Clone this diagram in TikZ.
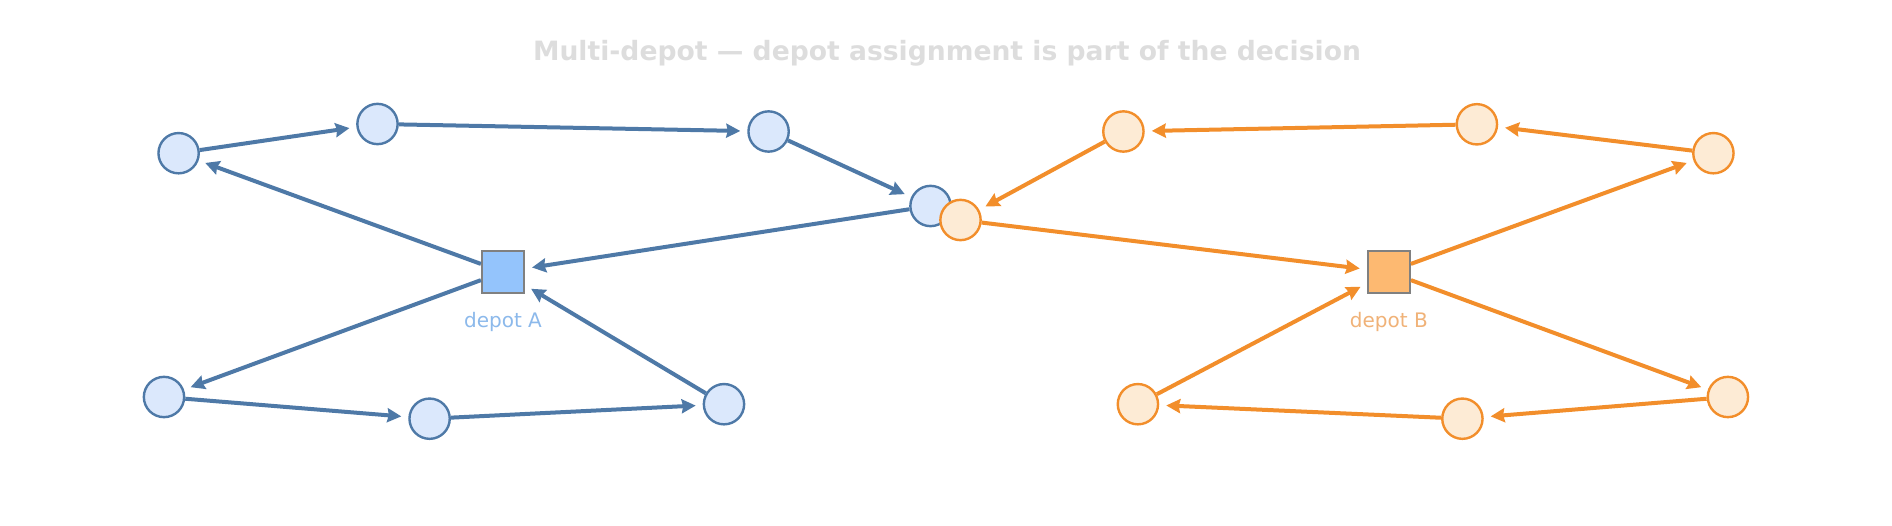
\documentclass[tikz,border=0pt]{standalone}
\usepackage{fontspec}
\setmainfont{DejaVu Sans}
\usetikzlibrary{arrows.meta, positioning}
\definecolor{routeA}{HTML}{4E79A7}
\definecolor{stopAfill}{RGB}{219,232,252}
\definecolor{depotAfill}{RGB}{148,196,252}
\definecolor{depotAtext}{RGB}{140,185,235}
\definecolor{routeB}{HTML}{F28E2B}
\definecolor{stopBfill}{RGB}{253,235,213}
\definecolor{depotBfill}{RGB}{253,185,113}
\definecolor{depotBtext}{RGB}{240,178,120}
\definecolor{titlegray}{RGB}{221,221,221}

\begin{document}
\begin{tikzpicture}[x=1pt, y=-1pt,
    stopA/.style={circle, draw=routeA, fill=stopAfill, line width=2.4pt, minimum size=40.3pt, inner sep=0pt},
    stopB/.style={circle, draw=routeB, fill=stopBfill, line width=2.4pt, minimum size=40.3pt, inner sep=0pt},
    depot/.style={rectangle, draw=gray, line width=2.2pt, minimum size=42pt, inner sep=0pt},
    deplabel/.style={font=\fontsize{20}{23}\selectfont},
    leg/.style={line width=4pt, -{Stealth[length=14pt,width=14pt,inset=1.5pt]}, shorten >=7pt},
    legA/.style={leg, draw=routeA, fill=routeA},
    legB/.style={leg, draw=routeB, fill=routeB}]
  \useasboundingbox (0,0) rectangle (1892,526);

  \node[text=titlegray, font=\fontsize{26.6}{32}\selectfont\bfseries] (title) at (947,53) {Multi-depot — depot assignment is part of the decision};

  % depot A and its customers
  \node[depot, fill=depotAfill] (depA) at (503,272) {};
  \node[deplabel, text=depotAtext, below=15pt of depA] (depAlab) {depot A};
  \node[stopA] (a1) at (178.6,153.2) {};
  \node[stopA] (a2) at (377.5,124) {};
  \node[stopA] (a3) at (768.6,131.5) {};
  \node[stopA] (a4) at (930.5,206) {};
  \node[stopA] (a5) at (164,397) {};
  \node[stopA] (a6) at (429.6,418.7) {};
  \node[stopA] (a7) at (724,404.2) {};

  \draw[legA] (depA) -- (a1);
  \draw[legA] (a1) -- (a2);
  \draw[legA] (a2) -- (a3);
  \draw[legA] (a3) -- (a4);
  \draw[legA] (a4) -- (depA);
  \draw[legA] (depA) -- (a5);
  \draw[legA] (a5) -- (a6);
  \draw[legA] (a6) -- (a7);
  \draw[legA] (a7) -- (depA);

  % depot B and its customers
  \node[depot, fill=depotBfill] (depB) at (1388.8,272) {};
  \node[deplabel, text=depotBtext, below=15pt of depB] (depBlab) {depot B};
  \node[stopB] (b1) at (960.5,220) {};
  \node[stopB] (b2) at (1123.4,131.5) {};
  \node[stopB] (b3) at (1476.9,124.3) {};
  \node[stopB] (b4) at (1713.4,153.2) {};
  \node[stopB] (b5) at (1727.9,397) {};
  \node[stopB] (b6) at (1462.4,418.7) {};
  \node[stopB] (b7) at (1137.9,404.2) {};

  \draw[legB] (depB) -- (b4);
  \draw[legB] (b4) -- (b3);
  \draw[legB] (b3) -- (b2);
  \draw[legB] (b2) -- (b1);
  \draw[legB] (b1) -- (depB);
  \draw[legB] (depB) -- (b5);
  \draw[legB] (b5) -- (b6);
  \draw[legB] (b6) -- (b7);
  \draw[legB] (b7) -- (depB);
\end{tikzpicture}
\end{document}
